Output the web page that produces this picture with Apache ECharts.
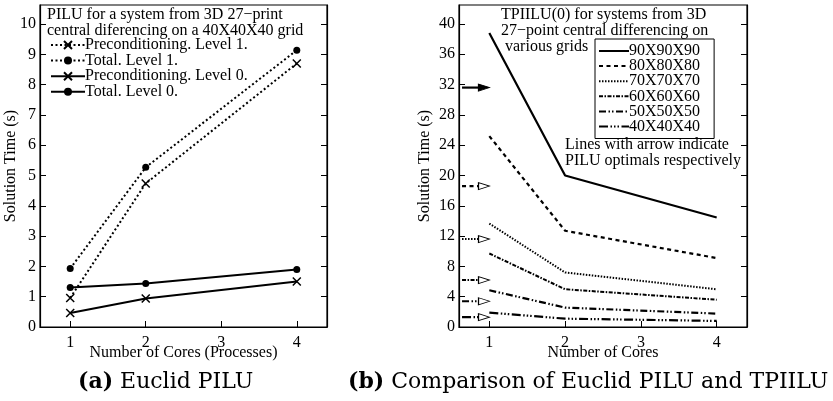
<!DOCTYPE html>
<html>
<head>
<meta charset="utf-8">
<script src="https://cdn.jsdelivr.net/npm/echarts@6/dist/echarts.min.js"></script>
<style>
  html, body { margin: 0; padding: 0; background: #fff; }
  #chart { width: 833px; height: 401px; }
</style>
</head>
<body>
<div id="chart"></div>
<script>
// ---- data ----
const CORES = [1, 2, 4];
const X_TICKS = [1, 2, 3, 4];
const LEFT_Y_TICKS = [0, 1, 2, 3, 4, 5, 6, 7, 8, 9, 10];
const RIGHT_Y_TICKS = [0, 4, 8, 12, 16, 20, 24, 28, 32, 36, 40];

// (a) Euclid PILU
const PRE_L1 = [0.96, 4.74, 8.70];
const TOTAL_L1 = [1.93, 5.27, 9.14];
const PRE_L0 = [0.46, 0.94, 1.50];
const TOTAL_L0 = [1.30, 1.44, 1.90];
const LEFT_NAMES = ['Preconditioning. Level 1.', 'Total. Level 1.', 'Preconditioning. Level 0.', 'Total. Level 0.'];

// (b) TPIILU(0) per grid
const GRID_NAMES = ['90X90X90', '80X80X80', '70X70X70', '60X60X60', '50X50X50', '40X40X40'];
const T90 = [38.8, 20.0, 14.45];
const T80 = [25.2, 12.7, 9.1];
const T70 = [13.65, 7.2, 4.98];
const T60 = [9.7, 4.98, 3.6];
const T50 = [4.85, 2.56, 1.77];
const T40 = [1.9, 1.1, 0.8];
// PILU optimals shown as arrows at the left edge
const PILU_OPT = [31.6, 18.6, 11.6, 6.2, 3.4, 1.3];
const ARROW_FROM = 0.64;
const ARROW_TO = 0.93;

const FONT = 'Liberation Serif';
const CAP_FONT = 'DejaVu Serif';
const CROSS = 'path://M0,0L10,10M10,0L0,10';
const ARROW = 'path://M0,0L10,4L0,8Z';

const pts = ys => CORES.map((x, i) => [x, ys[i]]);

const chart = echarts.init(document.getElementById('chart'), null, { renderer: 'canvas' });

const axisCommon = {
  axisLine: { lineStyle: { color: '#000', width: 1.2 } },
  axisTick: { inside: true, length: 6, lineStyle: { color: '#000', width: 1 } },
  splitLine: { show: false },
  axisLabel: { color: '#000', fontFamily: FONT, fontSize: 16 },
  nameTextStyle: { color: '#000', fontFamily: FONT, fontSize: 16 },
  nameMoveOverlap: false,
};

function xAxis(grid, name) {
  return {
    ...axisCommon, gridIndex: grid, type: 'value', min: 0.6, max: 4.4,
    name, nameLocation: 'middle', nameGap: 18,
    axisTick: { ...axisCommon.axisTick, customValues: X_TICKS },
    axisLabel: { ...axisCommon.axisLabel, customValues: X_TICKS, margin: 8 },
  };
}

function yAxis(grid, max, ticks, right) {
  return {
    ...axisCommon, gridIndex: grid, type: 'value', min: 0, max,
    position: right ? 'right' : 'left',
    name: right ? '' : 'Solution Time (s)', nameLocation: 'middle', nameGap: right ? 0 : (grid === 0 ? 21 : 26),
    axisTick: { ...axisCommon.axisTick, customValues: ticks },
    axisLabel: { ...axisCommon.axisLabel, show: !right, customValues: ticks, margin: 4 },
  };
}

const DOTTED = { color: '#000', width: 2, type: [2, 2.5] };
const SOLID = { color: '#000', width: 2, type: 'solid' };

const leftSeries = [
  { name: LEFT_NAMES[0], data: pts(PRE_L1), lineStyle: DOTTED, symbol: CROSS },
  { name: LEFT_NAMES[1], data: pts(TOTAL_L1), lineStyle: DOTTED, symbol: 'circle' },
  { name: LEFT_NAMES[2], data: pts(PRE_L0), lineStyle: SOLID, symbol: CROSS },
  { name: LEFT_NAMES[3], data: pts(TOTAL_L0), lineStyle: SOLID, symbol: 'circle' },
].map(s => ({
  ...s, type: 'line', xAxisIndex: 0, yAxisIndex: 0,
  symbolSize: s.symbol === 'circle' ? 7 : 8,
  itemStyle: s.symbol === 'circle'
    ? { color: '#000' }
    : { color: 'none', borderColor: '#000', borderWidth: 1.5 },
  animation: false,
}));

const RIGHT_STYLES = [
  { width: 2.2, type: 'solid' },
  { width: 2.2, type: [4, 3.5] },
  { width: 2, type: [1.5, 1.5] },
  { width: 2, type: [4, 1.5, 1.5, 1.5] },
  { width: 2.2, type: [7, 2.5, 1.5, 2, 1.5, 2.5] },
  { width: 2.2, type: [9, 2.5, 1.5, 2, 1.5, 2, 1.5, 2.5] },
];
const RIGHT_DATA = [T90, T80, T70, T60, T50, T40];

const rightSeries = [];
GRID_NAMES.forEach((name, i) => {
  const ls = { color: '#000', ...RIGHT_STYLES[i] };
  rightSeries.push({
    name, type: 'line', xAxisIndex: 1, yAxisIndex: 2,
    data: pts(RIGHT_DATA[i]), showSymbol: false, symbol: 'none',
    lineStyle: ls, itemStyle: { color: '#000' }, animation: false,
  });
  rightSeries.push({
    name: name + ' PILU', type: 'line', xAxisIndex: 1, yAxisIndex: 2,
    data: [
      { value: [ARROW_FROM, PILU_OPT[i]], symbol: 'none' },
      {
        value: [ARROW_TO, PILU_OPT[i]], symbol: ARROW, symbolSize: [11, 7],
        itemStyle: i === 0
          ? { color: '#000', borderColor: '#000', borderWidth: 1 }
          : { color: '#fff', borderColor: '#000', borderWidth: 1 },
      },
    ],
    lineStyle: ls, animation: false, silent: true,
  });
});

const serifText = (x, y, text) => ({
  type: 'text', left: x, top: y,
  style: { text, fill: '#000', fontFamily: FONT, fontSize: 16, lineHeight: 16 },
});

const caption = (x, label, text) => ({
  type: 'text', left: x, top: 371,
  style: {
    text: `{b|${label}} ${text}`, fill: '#000', fontFamily: CAP_FONT, fontSize: 22,
    rich: { b: { fontWeight: 'bold', fontFamily: CAP_FONT, fontSize: 22 } },
  },
});

chart.setOption({
  animation: false,
  textStyle: { fontFamily: FONT, color: '#000' },
  grid: [
    { left: 40, top: 5, width: 287, height: 322, show: true, borderColor: '#000', borderWidth: 1.2 },
    { left: 459, top: 5, width: 288, height: 322, show: true, borderColor: '#000', borderWidth: 1.2 },
  ],
  xAxis: [xAxis(0, 'Number of Cores (Processes)'), xAxis(1, 'Number of Cores')],
  yAxis: [
    yAxis(0, 10.63, LEFT_Y_TICKS, false),
    yAxis(0, 10.63, LEFT_Y_TICKS, true),
    yAxis(1, 42.5, RIGHT_Y_TICKS, false),
    yAxis(1, 42.5, RIGHT_Y_TICKS, true),
  ],
  legend: [
    {
      data: LEFT_NAMES, orient: 'vertical', left: 50, top: 37,
      itemWidth: 34, itemHeight: 10, itemGap: -0.4, padding: 0,
      textStyle: { color: '#000', fontFamily: FONT, fontSize: 16, padding: [0, 0, 0, -5] },
      selectedMode: false,
    },
    {
      data: GRID_NAMES, orient: 'vertical', left: 595, top: 39,
      itemWidth: 30, itemHeight: 10, itemGap: -0.9, padding: [4, 14, 4, 3],
      borderColor: '#000', borderWidth: 1,
      itemStyle: { opacity: 0 },
      textStyle: { color: '#000', fontFamily: FONT, fontSize: 16, padding: [0, 0, 0, -5] },
      selectedMode: false,
    },
  ],
  graphic: [
    serifText(47, 7, 'PILU for a system from 3D 27\u2212print\ncentral diferencing on a 40X40X40 grid'),
    serifText(501, 7, 'TPIILU(0) for systems from 3D\n27\u2212point central differencing on'),
    serifText(505, 39, 'various grids'),
    serifText(565, 137, 'Lines with arrow indicate\nPILU optimals respectively'),
    caption(78, '(a)', 'Euclid PILU'),
    caption(348, '(b)', 'Comparison of Euclid PILU and TPIILU'),
  ],
  series: [...leftSeries, ...rightSeries],
});
</script>
</body>
</html>
